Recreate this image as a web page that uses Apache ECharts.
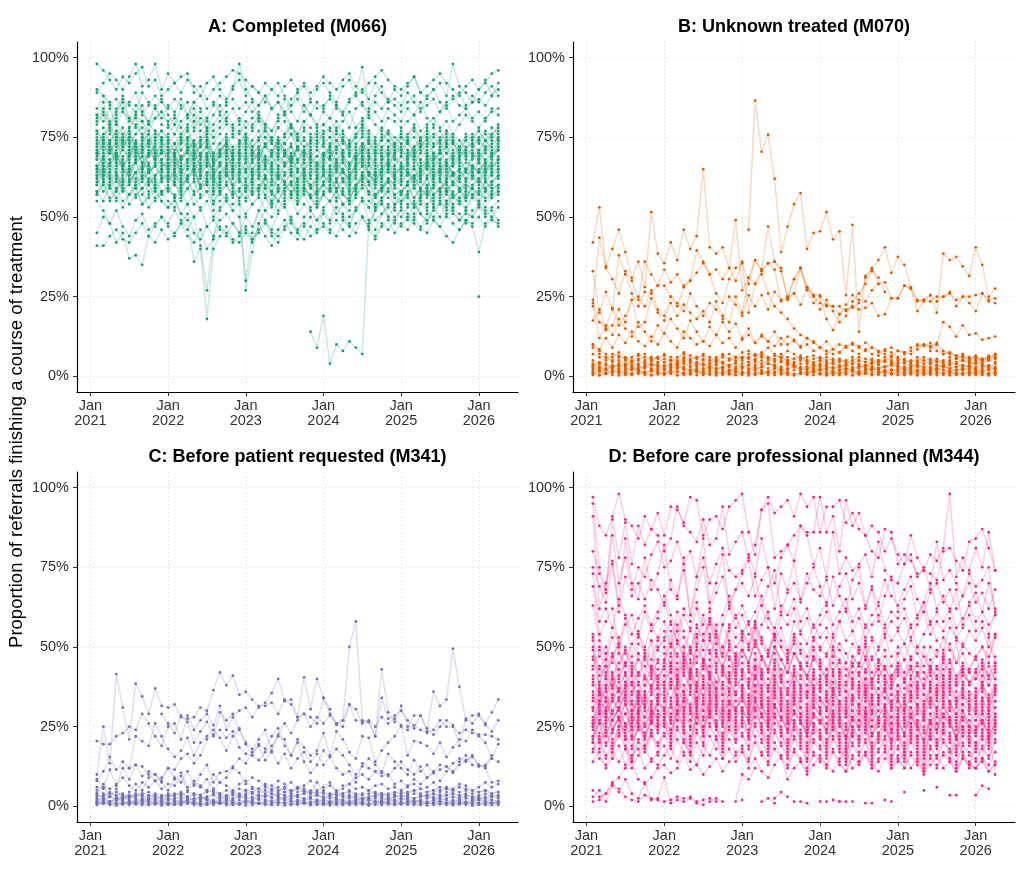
<!DOCTYPE html>
<html><head><meta charset="utf-8">
<script src="https://cdn.jsdelivr.net/npm/echarts@6/dist/echarts.min.js"></script>
<style>html,body{margin:0;padding:0;background:#fff}#chart{width:1024px;height:870px}</style>
</head><body><div id="chart"></div>
<script>
const _ = null;
// Months: Feb 2021 .. Apr 2026 (63 monthly values per provider), value = % of referrals
// rows per line: 2021 (Feb-Dec, 11) | 2022 (12) | 2023 (12) | 2024 (12) | 2025 (12) | 2026 (Jan-Apr, 4)

// ---------- Panel A: Completed (M066) ----------
const a01=[98,96,93,90,94,92,95,97,91,93,88, 90,92,94,95,89,91,87,90,92,94,96,95, 93,91,89,92,90,88,91,93,90,92,89,91, 94,92,90,93,95,91,89,92,94,96,93,91, 90,92,94,89,91,93,95,92,90,88,91,93, 90,92,95,96];
const a02=[90,88,85,87,84,86,89,83,85,88,86, 84,87,85,82,86,88,84,86,83,85,87,84, 86,83,85,88,84,86,82,85,87,83,86,84, 85,87,84,82,86,88,85,83,86,84,87,85, 83,86,88,84,85,87,83,86,88,85,84,86, 87,85,88,90];
const a03=[80,83,79,81,84,78,82,80,77,81,83, 79,76,80,82,78,81,77,79,82,80,78,76, 80,78,82,79,77,81,83,79,76,80,82,78, 79,81,77,80,83,78,80,82,79,77,81,80, 78,80,82,77,79,81,78,80,76,79,82,80, 78,81,83,84];
const a04=[76,78,74,77,73,75,79,76,72,74,77, 75,73,76,78,72,74,77,75,71,73,76,74, 76,72,75,78,74,73,76,79,75,72,74,77, 75,73,77,74,72,76,78,74,71,75,77,73, 76,74,72,75,78,73,75,77,74,72,75,76, 74,77,75,79];
const a05=[72,75,71,73,76,70,74,72,69,73,75, 71,69,73,75,70,72,74,68,71,73,70,72, 74,70,72,75,71,69,73,76,72,70,71,74, 72,70,74,71,69,73,75,71,68,72,74,70, 73,71,69,72,75,70,72,74,71,69,72,73, 71,74,72,75];
const a06=[68,72,70,74,69,71,73,67,70,72,68, 70,66,69,72,68,70,73,67,69,71,65,68, 71,67,70,73,69,66,70,72,68,71,67,69, 70,68,72,69,66,71,73,69,67,70,72,68, 69,71,67,70,73,68,70,72,67,69,71,70, 68,72,70,71];
const a07=[66,69,65,70,67,64,68,71,66,63,67, 65,68,64,66,69,63,67,65,62,66,68,64, 67,63,66,69,65,62,66,68,64,67,63,65, 66,64,68,65,62,67,69,64,63,66,68,64, 65,67,63,66,69,64,66,68,63,65,67,66, 64,68,66,67];
const a08=[63,66,62,65,68,61,64,66,60,63,65, 62,65,61,63,66,60,64,62,59,63,65,61, 64,60,63,66,62,59,63,65,61,64,60,62, 63,61,65,62,59,64,66,61,60,63,65,61, 62,64,60,63,66,61,63,65,60,62,64,63, 61,65,63,64];
const a09=[60,63,59,62,58,61,64,57,60,62,58, 59,56,60,62,57,59,61,55,58,60,57,59, 61,57,59,62,58,55,59,61,57,60,56,58, 60,58,61,57,55,60,62,58,56,59,61,57, 58,60,56,59,62,57,59,61,56,58,60,59, 57,61,59,60];
const a10=[57,60,55,58,61,54,57,59,53,56,58, 55,53,57,59,54,56,58,52,55,57,54,56, 58,54,56,59,55,52,56,58,54,57,53,55, 57,55,58,54,52,57,59,55,53,56,58,54, 55,57,53,56,59,54,56,58,53,55,57,56, 54,58,56,57];
const a11=[45,50,48,52,47,44,49,51,46,48,50, 47,44,48,51,45,43,47,49,46,44,48,45, 47,43,46,49,45,44,47,50,46,48,44,46, 47,45,49,46,44,48,50,46,43,47,49,45, 48,46,50,47,45,49,47,51,48,46,49,48, 50,47,49,48];
const a12=[41,41,44,46,43,42,45,48,44,42,46, 43,45,48,44,42,46,40,43,47,45,42,44, 46,43,45,48,44,42,46,49,45,43,47,45, 48,46,44,49,47,45,50,47,44,48,46,49, 47,50,48,46,51,49,47,44,42,46,49,47, 39,48,50,47];
const a13=[55,52,48,42,45,37,38,35,44,47,50, 48,52,49,46,50,53,47,44,49,51,48,45, 50,47,52,49,46,51,54,48,45,50,52,49, 51,48,53,50,47,52,55,49,46,51,53,50, 52,49,54,51,48,53,50,55,52,49,51,50, 53,50,52,49];
const a14=[62,65,60,63,58,61,64,59,62,60,57, 59,56,58,54,50,41,27,44,52,55,58,56, 60,57,59,62,58,55,59,61,57,60,56,58, 60,58,61,57,55,60,62,58,56,59,61,57, 58,60,56,59,62,57,59,61,56,58,60,59, 57,61,59,60];
const a15=[58,61,56,59,55,57,60,54,57,59,55, 53,55,51,49,36,40,18,40,44,47,43,42, 45,42,48,44,41,46,49,45,43,47,50,46, 52,49,55,51,48,53,50,47,52,54,50,48, 53,51,49,54,52,50,55,53,51,49,52,50, 54,52,50,53];
const a16=[66,63,68,64,61,65,67,62,64,66,63, 61,64,60,62,65,59,61,63,58,55,52,50, 30,45,52,56,53,58,55,57,54,59,56,53, 57,55,58,54,56,59,55,53,57,60,56,54, 58,56,53,57,60,55,57,59,54,56,58,57, 55,59,57,58];
const a17=[70,73,68,71,74,67,70,72,66,69,71, 68,65,69,71,66,68,70,64,67,63,60,55, 27,39,48,52,55,58,61,57,60,63,59,62, 64,61,66,62,60,65,67,63,61,64,66,62, 63,65,61,64,67,62,64,66,61,63,65,64, 62,66,64,65];
const a18=[_,_,_,_,_,_,_,_,_,_,_, _,_,_,_,_,_,_,_,_,_,_,_, _,_,_,_,_,_,_,_,_,_,14,9, 19,4,10,8,11,9,7,48,52,55,50,53, 57,54,51,56,58,53,55,52,57,54,56,59, 55,53,56,58];
const a19=[84,88,86,82,87,85,83,89,86,84,81, 85,83,87,82,86,84,81,85,88,86,90,98, 90,87,85,88,84,86,83,87,89,85,82,86, 84,88,85,83,87,89,97,84,88,91,86,87, 85,89,86,83,88,90,86,84,87,89,85,88, 86,89,91,88];
const a20=[89,92,95,93,90,94,98,91,93,98,90, 95,92,89,93,91,88,92,94,90,87,91,93, 88,91,89,86,90,92,88,85,89,91,87,90, 92,89,86,91,93,88,90,87,92,89,86,90, 88,91,94,89,87,90,92,88,98,91,89,86, 90,93,88,92];
const a21=[79,82,77,80,76,78,81,75,79,77,74, 76,79,74,77,80,75,78,73,76,79,75,77, 74,77,80,75,73,78,76,79,74,77,75,72, 76,78,74,77,73,75,79,76,72,74,77,75, 73,76,78,74,72,75,77,73,76,74,71,75, 77,74,76,78];
const a22=[77,74,79,75,78,73,76,80,74,77,75, 73,76,71,74,77,72,75,70,73,76,72,74, 71,74,77,72,70,75,73,76,71,74,72,69, 73,75,71,74,70,72,76,73,69,71,74,72, 70,73,75,71,69,72,74,70,73,71,68,72, 74,71,73,75];
const a23=[73,76,78,72,75,77,71,74,76,70,73, 72,69,73,75,70,72,74,68,71,73,69,71, 74,70,68,72,75,71,73,69,72,70,74,71, 69,72,74,70,73,68,71,74,70,72,69,73, 71,69,72,74,70,68,71,73,69,72,70,71, 69,72,70,74];
const a24=[75,71,74,77,72,76,73,70,74,76,71, 70,73,68,71,74,69,72,67,70,73,68,70, 73,69,72,67,70,74,71,68,72,69,71,67, 70,68,72,69,66,70,73,68,71,69,66,70, 72,68,70,73,69,67,70,72,68,71,69,70, 68,71,69,72];
const a25=[70,74,72,68,71,75,69,72,74,68,71, 69,67,71,73,68,70,72,66,69,71,67,69, 72,68,70,66,69,73,70,67,71,68,70,66, 68,66,70,67,65,69,71,67,64,68,70,66, 69,67,65,68,71,66,68,70,66,68,65,69, 67,70,68,71];
const a26=[71,68,73,69,66,70,72,67,70,68,65, 68,70,65,68,71,66,69,64,67,70,66,68, 65,68,71,66,64,69,67,70,65,68,66,63, 67,69,65,68,64,66,70,67,63,65,68,66, 64,67,69,65,63,66,68,64,67,65,62,66, 68,65,67,69];
const a27=[65,69,71,66,68,72,67,65,69,71,66, 67,64,68,70,65,67,69,63,66,68,64,66, 69,65,67,63,66,70,67,64,68,65,67,63, 65,63,67,64,62,66,68,64,61,65,67,63, 66,64,62,65,68,63,65,67,63,65,62,66, 64,67,65,68];
const a28=[68,64,67,70,65,63,67,69,64,66,68, 64,67,62,65,68,63,66,61,64,67,63,65, 62,65,68,63,61,66,64,67,62,65,63,60, 64,66,62,65,61,63,67,64,60,62,65,63, 61,64,66,62,60,63,65,61,64,62,59,63, 65,62,64,66];
const a29=[63,67,64,61,66,68,62,65,67,61,64, 66,63,61,65,67,62,64,60,63,66,62,64, 61,64,66,62,60,65,63,66,61,64,62,59, 63,65,61,64,60,62,66,63,59,61,64,62, 60,63,65,61,59,62,64,60,63,61,58,62, 64,61,63,65];
const a30=[65,61,64,67,62,60,64,66,61,63,65, 61,64,59,62,65,60,63,58,61,64,60,62, 59,62,65,60,58,63,61,64,59,62,60,57, 61,63,59,62,58,60,64,61,57,59,62,60, 58,61,63,59,57,60,62,58,61,59,56,60, 62,59,61,63];
const a31=[60,64,62,58,63,65,59,62,64,58,61, 63,60,58,62,64,59,61,57,60,63,59,61, 58,61,63,59,57,62,60,63,58,61,59,56, 60,62,58,61,57,59,63,60,56,58,61,59, 57,60,62,58,56,59,61,57,60,58,55,59, 61,58,60,62];
const a32=[62,58,61,64,59,57,61,63,58,60,62, 58,61,56,59,62,57,60,55,58,61,57,59, 56,59,62,57,55,60,58,61,56,59,57,54, 58,60,56,59,55,57,61,58,54,56,59,57, 55,58,60,56,54,57,59,55,58,56,53,57, 59,56,58,60];
const a33=[57,61,59,55,60,62,56,59,61,55,58, 60,57,55,59,61,56,58,54,57,60,56,58, 55,58,60,56,54,59,57,60,55,58,56,53, 57,59,55,58,54,56,60,57,53,55,58,56, 54,57,59,55,53,56,58,54,57,55,52,56, 58,55,57,59];
const a34=[70,66,72,68,65,69,71,67,64,68,70, 66,69,64,67,70,65,68,63,66,69,65,67, 64,67,70,65,63,68,66,69,64,67,65,62, 66,68,64,67,63,65,69,66,62,64,67,65, 63,66,68,64,62,65,67,63,66,64,61,65, 67,64,66,68];
const a35=[74,70,73,76,71,69,73,75,70,72,74, 70,73,68,71,74,69,72,67,70,73,69,71, 68,71,74,69,67,72,70,73,68,71,69,66, 70,72,68,71,67,69,73,70,66,68,71,69, 67,70,72,68,66,69,71,67,70,68,65,69, 71,68,70,72];
const a36=[82,86,80,84,88,81,85,83,79,84,87, 82,79,84,86,80,83,78,82,85,81,84,80, 83,86,81,79,84,82,87,83,80,85,82,79, 83,81,85,82,78,84,86,81,83,80,84,82, 80,84,82,86,81,79,83,85,80,82,84,81, 83,80,84,82];
const a37=[_,_,_,_,_,_,_,_,_,_,_, _,_,_,_,_,_,_,_,_,_,_,_, _,_,_,_,_,_,_,_,_,_,_,_, _,_,_,_,_,_,_,_,_,_,_,_, _,_,_,_,_,_,_,_,_,_,_,_, 25,_,_,_];
const a38=[77,73,76,79,74,72,76,78,73,75,77, 74,71,75,77,72,74,76,70,73,75,71,73, 76,72,74,77,73,71,75,78,74,72,73,76, 74,72,76,73,71,75,77,73,70,74,76,72, 75,73,71,74,77,72,74,76,73,71,74,75, 73,76,74,77];
const a39=[69,73,71,67,72,74,68,71,73,67,70, 72,69,67,71,73,68,70,66,69,72,68,70, 67,70,72,68,66,71,69,72,67,70,68,65, 69,71,67,70,66,68,72,69,65,67,70,68, 66,69,71,67,65,68,70,66,69,67,64,68, 70,67,69,71];
const a40=[64,68,66,70,65,63,67,69,64,66,68, 65,62,66,68,63,65,67,61,64,66,62,64, 67,63,65,68,64,62,66,69,65,63,64,67, 65,63,67,64,62,66,68,64,61,65,67,63, 66,64,62,65,68,63,65,67,64,62,65,66, 64,67,65,68];
const a41=[61,65,63,59,64,66,60,63,65,59,62, 64,61,59,63,65,60,62,58,61,64,60,62, 59,62,64,60,58,63,61,64,59,62,60,57, 61,63,59,62,58,60,64,61,57,59,62,60, 58,61,63,59,57,60,62,58,61,59,56,60, 62,59,61,63];
const a42=[82,80,84,79,83,81,78,82,80,85,79, 78,81,76,79,82,77,80,75,78,81,77,79, 76,79,81,77,75,78,80,76,74,78,76,73, 77,75,78,74,72,76,79,75,73,76,74,71, 75,73,77,72,74,76,71,75,73,70,74,72, 75,72,76,74];
const a43=[72,65,70,75,66,69,73,64,71,68,74, 66,70,63,68,72,65,69,62,67,71,64,68, 70,64,69,73,66,63,70,67,72,65,69,64, 68,72,65,69,63,67,71,64,68,62,66,70, 64,68,71,63,67,70,65,62,68,66,70,64, 67,63,69,71];
const a44=[58,55,60,56,53,57,59,54,56,58,55, 53,56,51,54,57,52,55,50,53,56,52,54, 51,54,57,52,50,55,53,56,51,54,52,49, 53,55,51,54,50,52,56,53,49,51,54,52, 50,53,55,51,49,52,54,50,53,51,48,52, 54,51,53,55];
const a45=[71,76,73,69,74,77,71,73,76,70,72, 74,70,75,72,68,73,76,69,71,74,70,73, 75,71,68,73,70,74,71,67,72,75,69,71, 73,69,72,75,70,68,73,71,74,69,72,70, 71,74,69,72,75,70,68,72,74,69,71,73, 70,74,71,73];
const a46=[66,62,67,63,60,65,68,61,64,66,62, 63,60,65,61,58,64,66,59,62,65,60,63, 65,61,58,63,60,64,61,57,62,65,59,61, 63,59,62,65,60,58,63,61,64,59,62,60, 61,64,59,62,65,60,58,62,64,59,61,63, 60,64,61,63];
const a47=[81,84,79,83,86,80,82,85,79,81,83, 80,82,78,81,84,79,81,77,80,83,79,81, 78,81,83,79,77,80,82,78,76,80,78,75, 79,77,80,76,74,78,81,77,75,78,76,73, 77,75,79,74,76,78,73,77,75,72,76,74, 77,74,78,76];

// ---------- Panel B: Unknown treated (M070) ----------
const b01=[1,0.5,1,1.5,1,0.5,1,2,1,0.5,1, 1,1.5,0.5,1,1,2,1,0.5,1,1.5,1,0.5, 1,1,0.5,1.5,1,1,2,1,0.5,1,1,1.5, 1,0.5,1,1,1.5,0.5,1,1,0.5,1,1.5,1, 0.5,1,1,1.5,1,0.5,1,1,1.5,0.5,1,1, 1,0.5,1,1.5];
const b02=[2,3,2,1.5,2.5,2,3,2,1.5,2,2.5, 2,1.5,2.5,3,2,2,1.5,2.5,2,3,2,1.5, 2.5,2,3,2,1.5,2.5,2,2,3,2.5,2,1.5, 2,2.5,1.5,2,2.5,2,1.5,2,2.5,2,1.5,2, 2,1.5,2.5,2,1.5,2,2.5,2,1.5,2,2,2.5, 2,1.5,2,2.5];
const b03=[3,4,2.5,3.5,3,4,3,2.5,3.5,4,3, 3.5,3,2.5,4,3,3.5,4,3,2.5,3,3.5,4, 3,3.5,4.5,3,4,3.5,3,4,3.5,3,2.5,3, 3.5,3,2.5,3,3.5,2.5,3,3.5,3,2.5,3,3.5, 3,2.5,3,3.5,2.5,3,3.5,3,2.5,3,3.5,3, 2.5,3,3.5,3];
const b04=[5,4,6,4.5,5,3.5,4.5,5.5,4,5,6, 4.5,5,4,5.5,4.5,6,5,4,5.5,4.5,5,6, 5.5,6,5,6.5,5.5,5,6,5,4.5,5.5,4.5,4, 5,4,4.5,3.5,4,5,4,3.5,4.5,4,5,4.5, 4,4.5,3.5,4,5,4,4.5,3.5,4,4.5,5,4, 4.5,4,5,4.5];
const b05=[7,6,5,7,6.5,5.5,6,7,5,6,5.5, 6.5,5,6,7,5.5,6,6.5,5,6,7,5.5,6, 6,7,6.5,7.5,6,5.5,7,6,5.5,6.5,5,5.5, 6,5,5.5,4.5,5,6,5,4.5,5.5,5,6,5, 5,5.5,4.5,5,6,5,5.5,4.5,5,5.5,6,5, 5.5,5,6,6.5];
const b06=[1.5,2,1,2,1.5,1,2.5,1.5,1,2,1.5, 1,2,1.5,1,2,1.5,1,2,1.5,1,2,1.5, 1,1.5,2,1,1.5,2.5,1.5,1,2,1.5,1,1.5, 2,1,1.5,1,2,1.5,1,1.5,2,1,1.5,1, 1.5,1,2,1.5,1,1.5,2,1,1.5,1,2,1.5, 1,1.5,2,1];
const b07=[4,3,3.5,2.5,4,3,4.5,3.5,3,4,3.5, 3,4,3.5,4.5,3,4,3.5,3,4,4.5,3.5,3, 4,4.5,3.5,5,4,3.5,4.5,4,3.5,4,3,3.5, 3,3.5,2.5,3,3.5,3,2.5,3.5,3,2.5,3,3.5, 3,2.5,3,3.5,3,2.5,3,3.5,2.5,3,3.5,3, 3,3.5,3,2.5];
const b08=[0.5,0.3,0.8,0.5,0.3,0.6,0.4,0.8,0.5,0.3,0.6, 0.5,0.8,0.3,0.5,0.6,0.4,0.5,0.8,0.3,0.5,0.6,0.4, 0.5,0.3,0.6,0.8,0.5,0.4,0.6,0.5,0.3,0.8,0.5,0.4, 0.6,0.3,0.5,0.4,0.6,0.3,0.5,0.8,0.4,0.5,0.3,0.6, 0.5,0.4,0.6,0.3,0.5,0.8,0.4,0.5,0.3,0.6,0.5,0.4, 0.5,0.6,0.3,0.5];
const b09=[10,8,7,6,7.5,6,5,6.5,7,5.5,6, 7,6,5,7.5,6.5,5.5,7,6,5,6.5,7,6, 7.5,8,6.5,7,9,7,6,8,7,5.5,6,6.5, 5.5,6,5,5.5,4.5,5,6,5.5,5,4.5,5,6, 5.5,5,4.5,6,5,5.5,4.5,5,6,5.5,5,4.5, 5,5.5,6,7];
const b10=[2.5,1.5,2,3,2,1.5,2.5,2,3,2.5,2, 2,2.5,3,2,1.5,2.5,2,3,2.5,2,1.5,2.5, 3,2.5,2,3,2.5,3.5,2,2.5,3,2,2.5,2, 2.5,2,1.5,2,2.5,2,1.5,2,2.5,1.5,2,2, 2,2.5,1.5,2,2,1.5,2.5,2,1.5,2,2.5,2, 1.5,2,2.5,2];
const b11=[3.5,4.5,4,3,4,5,3.5,4,4.5,3.5,4, 4.5,3.5,4,5,4,4.5,3.5,4,5,4,3.5,4.5, 5,4.5,5.5,4,5,4.5,5,4.5,4,5,4,3.5, 4,3.5,4,3,3.5,4,3.5,3,4,3.5,3,4, 3.5,3,4,3.5,3,4,3.5,3,3.5,4,3,3.5, 4,3.5,3,4];
const b12=[1,1.5,0.8,1.2,1.5,1,0.8,1.3,1,1.5,1.2, 0.8,1.2,1.5,1,0.8,1.3,1,1.5,1.2,0.8,1,1.3, 1.5,1,1.2,0.8,1.3,1.5,1,1.2,0.8,1,1.5,1.2, 1,1.3,0.8,1.2,1,1.5,0.8,1,1.2,1.3,1,0.8, 1.2,1,1.3,0.8,1,1.2,1.5,1,0.8,1.2,1,1.3, 1,1.2,0.8,1];
const b13=[9,7,6,5,6,5.5,4.5,5,6,5,4.5, 5.5,5,4.5,6,5,4,5.5,5,4.5,6,5.5,5, 6,5.5,7,6,5.5,6.5,6,5,5.5,6,5,4.5, 5,4.5,4,5,4.5,4,5,4.5,4,5,4.5,4, 4.5,4,5,4.5,4,4.5,5,4,4.5,4,5,4.5, 4,4.5,5,5.5];
const b14=[3,2.5,2,3,3.5,2.5,2,3,2.5,3.5,3, 2.5,3,3.5,2.5,2,3,2.5,3,3.5,2.5,3,2, 3,3.5,2.5,3,4,3,2.5,3.5,3,2.5,3,2.5, 2,2.5,3,2,2.5,2,3,2.5,2,2.5,3,2, 2.5,2,2.5,3,2,2.5,2,3,2.5,2,2.5,3, 2,2.5,3,2.5];
const b15=[_,_,_,_,_,_,_,_,_,_,_, _,_,_,_,_,_,_,_,_,_,_,_, _,46,86.5,70.5,75.8,62,39,47,54,57.5,40,45, 45.5,51.5,43,45.5,25.5,47.5,14,31.5,33.5,36.5,40.5,32.5, 37.5,35,28,24,24,25.5,20,38.5,36.5,37.5,34.5,31.5, 40.5,35,25,27.5];
const b16=[42,53,34.5,40,46,39,31,36,28,51.5,38.5, 35.5,42,36.5,46,40,44,65,40.5,38.5,40.5,34,49, 27,31,36.5,33.5,35.5,36,33,25,30.5,34,28,25.5, 23,22,22,19.5,22.5,25.5,24,23.5,27,29,29.5,24.5, 24.5,28.5,27.5,23.5,24,23.5,25,25,26,24,25,25, 25.5,26,24,24.5];
const b17=[23,43.5,34,30.5,26,33,30,24,36,32,28.5, 33.5,29.5,32,28.5,30,32.5,35.5,32,33.5,30.5,34,30, 36,29,36.5,33,35.5,33.5,23.5,24.5,30.5,34,27.5,25, 21,24,20.5,17,19,23.5,26,29,33,31,26.5,_, _,_,_,_,_,_,_,_,_,_,_,_, _,_,_,_];
const b18=[17.5,21,14.5,16,21,17,24,25,22,27,21, 19,25,23,20.5,26,22,19,23,21,18,25,22.5, 19,25.5,22,25.5,21,26.5,24,25,26,22.5,28,25.5, 25.5,22.5,22,22,20.5,22,21,21.5,23,19,19.5,24.5, 24.5,28.5,27.5,20.5,23.5,25.5,23.5,25,26.5,22,25,23, 20.5,26,23.5,23];
const b19=[22,12,16,13,18,15,12.5,17,14,11,16, 13.5,18,15,12,17.5,14,11,15.5,13,17,14,16.5, 12,15,10.5,13,11,14,10,12.5,11,9.5,12,10.5, 9,11,8.5,10,9,10.5,9.5,8,9,7.5,8.5,9, 8,7.5,9,10,9.5,10.5,8,7,7.5,6.5,7,6, 6.5,5.5,6.5,7];
const b20=[10,8.5,12,9,13,10.5,14,11,9.5,12.5,10, 13.5,11,9,14,12,10,11,9.5,13,10.5,12,9, 11.5,13,10.5,12.5,11,9.5,12,10,11.5,9,10,8, 9,7,8.5,7.5,9.5,8,7,8.5,7,6.5,8,7.5, 6,7,8,9.5,10,9,10.5,8,7,6.5,6,5.5, 6,5,5.5,6];
const b21=[_,_,_,_,_,_,_,_,_,_,_, _,_,_,_,_,_,_,_,_,_,_,_, _,_,_,_,_,_,_,_,_,_,_,_, _,_,_,_,_,_,_,_,_,_,_,_, _,_,_,_,_,8,10,17,15.5,12.5,16,13, 13.5,11.5,12,12.5];
const b22=[33,20,26.5,21,38,32,26,22,26.5,26,28.5, 28.5,25,22,28,30,39.5,36,32,26,23,30.5,34, 35.5,20,29,32,26,22,20,18,15,13,12,11, 9,8,7,7.5,9.5,10,9,10.5,9,8,7,6.5, 8,7.5,7,8.5,10,9.5,10,7,7.5,6,6.5,5.5, 6,5,5.5,6];
const b23=[24,17,15,21.5,16,19,24,15.5,17,24.5,20, 17.5,23,19,22.5,20,18,20.5,17,23.5,19,17,25, 20,31,29,33.5,47,36,34,24,26,34,27,23, 25,18,14.5,19.5,21,21.5,23,31,34,29,_,_, _,_,_,_,_,_,_,_,_,_,_,_, _,_,_,_];

// ---------- Panel C: Before patient requested (M341) ----------
const c01=[1,1.5,1,0.5,1,1.5,1,1,0.5,1,1.5, 1,0.5,1,1.5,1,1,0.5,1.5,1,1,0.5,1, 1.5,1,1,0.5,1,1.5,1,0.5,1,1,1.5,1, 0.5,1,1,1.5,0.5,1,1,0.5,1.5,1,1,0.5, 1,1.5,1,0.5,1,1,1.5,1,0.5,1,1,1.5, 1,0.5,1,1];
const c02=[2,2.5,1.5,2,3,2,1.5,2.5,2,1.5,2, 2.5,2,1.5,2,2.5,3,2,1.5,2,2.5,2,3, 2.5,3,2,3.5,2.5,3,2,2.5,3,2,2.5,2, 2,1.5,2.5,2,1.5,2,2.5,2,1.5,2,2.5,2, 2.5,2,1.5,2,2.5,3,2,2.5,3,2,2.5,2, 2,2.5,2,1.5];
const c03=[3,3.5,4,3,2.5,3.5,3,4,3.5,3,2.5, 3,3.5,4,3,3.5,2.5,3,4,3.5,3,4,3.5, 4,4.5,3.5,5,4,3.5,4.5,4,3.5,4,4.5,3.5, 3,3.5,4,3,3.5,3,2.5,3,3.5,4,3,3.5, 3,3.5,4,3.5,3,4,3.5,4.5,4,3.5,4,3, 3.5,4,3,3.5];
const c04=[0.5,0.8,0.5,0.3,0.6,0.5,0.8,0.4,0.5,0.6,0.3, 0.5,0.6,0.4,0.8,0.5,0.3,0.6,0.5,0.8,0.4,0.5,0.6, 0.3,0.5,0.8,0.6,0.4,0.5,0.3,0.6,0.5,0.8,0.4,0.5, 0.6,0.3,0.5,0.4,0.8,0.5,0.6,0.3,0.5,0.4,0.6,0.5, 0.8,0.5,0.4,0.6,0.3,0.5,0.8,0.5,0.4,0.6,0.5,0.3, 0.5,0.6,0.4,0.5];
const c05=[1.5,2,1.5,2.5,1.5,1,2,1.5,2,2.5,1.5, 2,1.5,1,2,1.5,2,2.5,1.5,1,2,1.5,2, 1.5,2,2.5,2,1.5,2,3,2,1.5,2,2.5,1.5, 2,1.5,2,1,1.5,2,1.5,2,2.5,1.5,2,1.5, 2,2.5,1.5,2,1.5,2,2.5,2,1.5,2,1.5,2, 2.5,1.5,2,1.5];
const c06=[4,3,4.5,3.5,4,3,3.5,4,4.5,3.5,3, 4,3.5,4.5,3,4,3.5,4.5,5,4,3.5,4.5,4, 5,4.5,5.5,4,5,6,4.5,5,5.5,4.5,5,4, 4.5,4,3.5,4,4.5,3.5,4,5,4,3.5,4,4.5, 4,4.5,5,4,4.5,5,4.5,5.5,5,4.5,5,4, 4.5,5,4,4.5];
const c07=[1,1.2,1.5,1,0.8,1.3,1,1.5,1.2,1,0.8, 1.2,1,1.5,1.3,1,0.8,1.2,1.5,1,1.3,1.2,1, 1.5,1.2,1,1.3,1.5,1,1.2,1.5,1.3,1,1.2,1.5, 1,1.3,1.2,0.8,1,1.5,1.2,1,1.3,1.5,1,1.2, 1.3,1,1.5,1.2,1,1.3,1.5,1.2,1,1.3,1.2,1, 1.2,1.5,1,1.3];
const c08=[2.5,2,3,2.5,2,3,2.5,2,2.5,3,2.5, 2,2.5,3,2.5,2,3,2.5,2,3,2.5,3.5,3, 3,2.5,3.5,3,4,3,2.5,3.5,3,2.5,3,3.5, 2.5,3,2.5,2,3,2.5,2,2.5,3,2.5,2,3, 2.5,3,2.5,3,3.5,2.5,3,3.5,3,2.5,3,2.5, 3,2.5,3,2.5];
const c09=[5,4,3,4.5,3.5,3,4,3.5,3,4,3.5, 3,4,3.5,4.5,4,3.5,5,4.5,4,5,4.5,5.5, 5,5.5,4.5,6,5,4.5,5.5,5,4.5,5,4,4.5, 4,3.5,4.5,4,5,4,3.5,4,4.5,4,3.5,4, 4.5,4,5,5.5,4.5,5,6,5.5,5,6,5.5,5, 4.5,5,4,4.5];
const c10=[1.5,1,1.5,2,1,1.5,1,2,1.5,1,1.5, 1,1.5,2,1.5,1,1.5,2,1,1.5,2,1.5,1, 2,1.5,1,2,1.5,2.5,2,1.5,2,1.5,1,2, 1.5,1,1.5,2,1,1.5,1,2,1.5,1,1.5,2, 1,1.5,2,1.5,1,2,1.5,1,2,1.5,1,1.5, 2,1.5,1,1.5];
const c11=[3.5,2.5,3,2,3,2.5,3.5,3,2.5,2,3, 3.5,3,2.5,3,2,2.5,3,3.5,2.5,3,2.5,3, 3.5,4,3,3.5,3,4,3.5,3,3.5,4,3,3.5, 3,2.5,3,3.5,2.5,3,2.5,3,3.5,3,2.5,3, 3.5,3,2.5,3,3.5,4,3,3.5,4,3,3.5,3, 2.5,3,3.5,3];
const c12=[0.8,1,0.6,1.2,0.8,1,0.6,0.8,1.2,1,0.8, 0.6,1,0.8,1.2,1,0.6,0.8,1,1.2,0.8,1,0.6, 1,1.2,0.8,1,0.6,1.2,1,0.8,1,1.2,0.6,0.8, 1,0.8,0.6,1,1.2,0.8,1,0.6,0.8,1,1.2,0.8, 0.6,1,0.8,1.2,1,0.8,0.6,1,1.2,0.8,1,0.6, 0.8,1,1.2,0.8];
const c13=[20.5,19.5,19.5,22,23,25,24,29,26,22,19, 25,26,21,28.5,24,27,29,25.5,31.5,24,28,30, 31,28,31.5,31.5,32.5,29,33.5,32,28,29,25,28, 26,28.5,26,25,32,27,26.5,27,25,28,26,27.5, 25,24,25.5,24,23,24,27,25,25,23,24,23, 22.5,22.5,22,21];
const c14=[10,25,13.5,41.5,31,21,38.5,34.5,29,37,31.5, 31,32,28,27.5,28,31,30,36.5,42,38,41,35, 36,33.5,31,32.5,35.5,40,33,33.5,28,40.5,30.5,40, 34,30.5,26,27,50,58,27,26.5,22,43,29.5,26.5, 31.5,25,28.5,28.5,23.5,36,31.5,33.5,49.5,37.5,27,28.5, 29,26,29.5,33.5];
const c15=[8,11,15.5,11.5,14,12,22,20.5,19,26,22, 18,15.5,17.5,21.5,16,20,22,24,21.5,17.5,22,24.5, 19.5,16,19.5,18,22,24.5,19,16,21,18.5,16,17.5, 23,16,23.5,21,17,15,22,21.5,14,17.5,20,22, 25.5,16,20.5,20,19,16.5,20,15.5,18.5,21,20.5,24, 22,20,15,19.5];
const c16=[6,5.5,11.5,6.5,12,8.5,13,9.5,11,10,8, 12,9,7.5,11,6.5,10,13,7.5,10.5,11,12.5,15, 13.5,17,19,14.5,17,13.5,16.5,12,15,17,14,16.5, 13,15.5,18,16,13,10,12.5,15,13,11,9.5,12, 14,11.5,10,12.5,9,11,13,12.5,10.5,13,14.5,15.5, 13,12.5,15,14];
const c17=[4,7,3,5.5,2,4.5,7,5,9,10,7.5, 5,8.5,10.5,6,8,6.5,5,10,7.5,9,12,10.5, 7,9,8,6.5,5.5,8,7,4.5,6,5.5,4,7.5, 5,6.5,4.5,5.5,7,9,10,8.5,11,9.5,10,7, 8,6,8.5,7,9,10.5,8,11,13.5,15,14,16, 13,12,7.5,8];
const c18=[_,_,_,_,_,_,_,_,_,_,29, 26,23,28.5,26.5,20,23.5,26.5,22,29.5,27,29,24, 20,18,21,24,17.5,22.5,26,23,27,29,28,26, 34,29,25.5,27,32,30.5,26,26.5,22,34,27.5,28.5, 30,27,24.5,28.5,24.5,22.5,25,27,25.5,19,27.5,26, 28.5,25.5,23.5,27];
const c19=[_,_,_,_,_,12,13,12.5,10,8,9, 12,11.5,15,16.5,13.5,16,21,22.5,24,21.5,23.5,18.5, 16.5,16,14.5,17,19,22,21,16,20,14,10.5,13, 17.5,15.5,12,10,11,7.5,13.5,12,11,10.5,16.5,14, 12,10,14.5,11,13,10.5,11.5,12.5,11,14,16,13, 12.5,13,16,_];
const c20=[8.5,6,5.5,7,9,6.5,5,7.5,6,8,5.5, 7,6.5,9.5,5,7,6,8.5,5.5,7.5,6.5,5,7, 8,6,5.5,7,6.5,5,6,7.5,5.5,6.5,8,5, 6,7.5,5,6.5,7,5.5,6,5,6.5,7,5.5,6, 5,6.5,7,5.5,6,7.5,5,6,5.5,7,6.5,5, 6,7.5,6,7];

// ---------- Panel D: Before care professional planned (M344) ----------
const d01=[97,88,85,91,98,90,88,84,91,87,92, 85,94,93,89,97,96,85,90,91,87,94,96, 98,86,79,93,97,92,94,96,91,98,94,97, 86,94,94,96,89,92,87,85,88,86,80,84, 79,76,85,78,74,73,71,80,81,77,74,83, 84,87,81,74];
const d02=[95,75,68,90,78,89,76,88,82,87,85, 80,84,94,88,86,83,90,82,84,94,79,83, 86,78,82,93,95,78,80,82,85,88,86,86, 97,86,91,80,96,88,92,85,80,78,87,86, 76,79,77,73,74,79,77,81,98,72,78,74, 81,75,86,74];
const d03=[80,73,67,85,70,78,68,75,72,79,83, 75,77,83,76,80,72,78,70,76,81,74,72, 74,79,73,84,75,70,78,82,77,88,85,76, 81,72,86,73,78,74,76,79,72,83,74,71, 70,76,79,72,75,68,83,71,74,70,66,73, 69,71,75,60];
const d04=[75,69,64,76,61,72,66,70,65,71,68, 63,71,66,74,60,68,75,62,67,72,64,68, 70,66,72,63,69,74,61,67,70,65,73,68, 66,71,63,69,73,65,70,62,68,64,71,66, 63,68,72,65,61,67,70,64,68,62,66,70, 64,67,62,68];
const d05=[91,62,70,77,63,84,70,65,78,68,73, 82,68,65,78,60,72,84,64,70,79,62,68, 73,77,66,71,75,62,73,68,77,64,70,75, 69,63,72,66,61,71,75,63,69,58,66,72, 61,65,69,59,64,70,62,66,61,68,57,64, 67,61,70,62];
const d06=[73,58,62,56,65,60,54,59,63,57,61, 66,60,55,62,58,64,57,61,55,60,66,59, 63,57,61,66,59,56,63,60,65,58,62,56, 60,64,57,61,65,58,62,56,60,63,57,61, 59,62,56,60,64,57,61,58,62,56,59,63, 58,61,57,60];
const d07=[69,54,58,62,50,57,60,53,61,55,59, 64,57,52,60,55,62,54,58,51,57,63,56, 60,54,58,63,56,53,60,57,62,55,59,53, 57,61,54,58,62,55,59,53,57,60,54,58, 56,59,53,57,61,54,58,55,59,53,56,60, 55,58,54,61];
const d08=[63,52,48,56,51,59,47,54,50,57,53, 58,51,61,55,49,57,52,59,53,48,56,60, 54,58,50,57,61,52,56,49,58,54,51,57, 53,56,50,58,52,55,49,57,53,50,56,52, 55,51,57,50,54,58,52,49,56,53,50,55, 52,56,50,54];
const d09=[52,47,50,45,53,48,44,51,49,46,52, 55,50,57,53,48,56,52,59,54,50,57,53, 55,51,58,53,49,56,52,48,54,51,47,53, 50,47,53,49,45,51,48,52,46,49,53,47, 50,46,52,48,44,50,47,53,49,45,51,48, 46,50,47,53];
const d10=[47,43,48,41,45,49,42,46,44,40,46, 50,45,52,47,43,50,46,53,48,44,51,47, 49,45,52,47,43,50,46,42,48,45,41,47, 44,41,47,43,39,45,42,46,40,43,47,41, 44,40,46,42,38,44,41,47,43,39,45,42, 40,44,41,47];
const d11=[43,39,44,38,41,45,39,42,40,37,43, 46,42,48,44,40,47,43,49,45,41,47,44, 45,42,48,43,40,46,43,39,44,41,38,43, 41,38,43,40,36,42,39,43,37,40,44,38, 41,37,43,39,35,41,38,43,40,36,42,39, 37,41,38,43];
const d12=[50,36,41,37,43,39,35,42,38,44,40, 43,47,41,45,50,42,46,40,48,43,39,45, 47,43,40,46,42,48,41,45,39,44,41,37, 40,43,37,41,45,38,42,36,40,44,38,41, 43,39,36,42,38,44,40,37,41,38,43,39, 42,38,44,40];
const d13=[39,35,40,33,37,42,36,39,34,38,41, 44,39,45,41,37,43,40,46,42,38,44,41, 43,39,46,41,37,44,40,36,42,38,35,41, 38,35,41,37,33,39,36,40,34,37,41,35, 38,34,40,36,32,38,35,40,37,33,39,36, 34,38,35,40];
const d14=[33,37,31,35,39,34,30,36,33,38,35, 41,37,43,38,35,41,37,44,39,35,42,38, 40,37,43,38,34,41,37,33,39,36,32,38, 36,33,39,35,31,37,34,38,32,35,39,33, 36,32,38,34,30,36,33,38,35,31,37,34, 32,36,33,38];
const d15=[36,32,37,30,34,38,33,36,31,35,38, 38,34,40,36,32,39,35,41,37,33,40,36, 38,34,41,36,32,39,35,31,37,34,30,36, 34,31,37,33,29,35,32,36,30,33,37,31, 34,30,36,32,28,34,31,36,33,29,35,32, 30,34,31,36];
const d16=[30,35,29,33,37,32,28,34,31,36,33, 37,33,39,35,31,38,34,40,36,32,39,35, 37,33,40,35,31,38,34,30,36,33,29,35, 33,30,36,32,28,34,31,35,29,32,36,30, 33,29,35,31,27,33,30,35,32,28,34,31, 29,33,30,35];
const d17=[34,29,33,27,31,35,30,33,28,32,35, 35,31,37,33,29,36,32,38,34,30,37,33, 35,31,38,33,29,36,32,28,34,31,27,33, 31,28,34,30,26,32,29,33,27,30,34,28, 31,27,33,29,25,31,28,33,30,26,32,29, 27,31,28,33];
const d18=[27,32,26,30,34,29,25,31,28,33,30, 33,29,35,31,27,34,30,36,32,28,35,31, 33,29,36,31,27,34,30,26,32,29,25,31, 29,26,32,28,24,30,27,31,25,28,32,26, 29,25,31,27,23,29,26,31,28,24,30,27, 25,29,26,31];
const d19=[31,26,30,24,28,32,27,30,25,29,32, 31,27,33,29,25,32,28,34,30,26,33,29, 31,27,34,29,25,32,28,24,30,27,23,29, 27,24,30,26,22,28,25,29,23,26,30,24, 27,23,29,25,21,27,24,29,26,22,28,25, 23,27,24,29];
const d20=[24,29,23,27,31,26,22,28,25,30,27, 30,26,32,28,24,31,27,33,29,25,32,28, 30,26,33,28,24,31,27,23,29,26,22,28, 26,23,29,25,21,27,24,28,22,25,29,23, 26,22,28,24,20,26,23,28,25,21,27,24, 22,26,23,28];
const d21=[28,23,27,21,25,29,24,27,22,26,29, 28,24,30,26,22,29,25,31,27,23,30,26, 28,24,31,26,22,29,25,21,27,24,20,26, 24,21,27,23,19,25,22,26,20,23,27,21, 24,20,26,22,18,24,21,26,23,19,25,22, 20,24,21,26];
const d22=[22,26,20,24,28,23,19,25,22,27,24, 27,23,29,25,21,28,24,30,26,22,29,25, 27,23,30,25,21,28,24,20,26,23,19,25, 23,20,26,22,18,24,21,25,19,22,26,20, 23,19,25,21,17,23,20,25,22,18,24,21, 19,23,20,25];
const d23=[25,20,24,18,22,26,21,24,19,23,26, 25,21,27,23,19,26,22,28,24,20,27,23, 25,21,28,23,19,26,22,18,24,21,17,23, 21,18,24,20,16,22,19,23,17,20,24,18, 21,17,23,19,15,21,18,23,20,16,22,19, 17,21,18,23];
const d24=[18,22,16,20,24,19,15,21,18,23,20, 23,19,25,21,17,24,20,26,22,18,25,21, 23,19,26,21,17,24,20,16,22,19,15,21, 19,16,22,18,14,20,17,21,15,18,22,16, 19,15,21,17,13,19,16,21,18,14,20,17, 15,19,16,21];
const d25=[20,15,13,17,14,18,12,16,19,14,17, 19,15,21,17,14,20,16,22,18,15,21,17, 19,15,22,17,14,20,16,13,18,15,12,17, 15,13,18,14,11,16,14,17,12,15,18,13, 16,12,17,14,11,16,13,17,15,12,16,14, 12,15,13,17];
const d26=[35,31,28,34,30,36,32,29,35,31,27, 33,38,34,30,36,32,39,35,31,37,33,30, 36,32,38,34,30,37,33,29,35,31,28,34, 31,35,29,33,30,27,32,29,34,28,31,26, 30,33,28,32,29,26,31,28,33,27,30,25, 29,32,27,31];
const d27=[26,30,33,27,31,25,29,33,26,30,28, 31,27,33,36,30,34,28,32,35,29,33,30, 34,30,36,32,28,35,31,27,33,29,26,32, 29,33,27,31,28,25,30,27,32,26,29,24, 28,31,26,30,27,24,29,26,31,25,28,23, 27,30,25,29];
const d28=[49,44,40,47,43,50,45,41,48,44,39, 46,51,47,43,49,45,52,48,44,50,46,42, 49,45,51,47,43,50,46,42,48,44,41,47, 44,48,42,46,43,40,45,42,47,41,44,39, 43,46,41,45,42,39,44,41,46,40,43,38, 42,45,40,44];
const d29=[41,37,34,40,36,42,38,35,41,37,33, 39,44,40,36,42,38,45,41,37,43,39,35, 42,38,44,40,36,43,39,35,41,37,34,40, 37,41,35,39,36,33,38,35,40,34,37,32, 36,39,34,38,35,32,37,34,39,33,36,31, 35,38,33,37];
const d30=[22,27,30,24,28,21,26,30,23,27,25, 28,24,30,33,27,31,25,29,32,26,30,27, 31,27,33,29,25,32,28,24,30,26,23,29, 26,30,24,28,25,22,27,24,29,23,26,21, 25,28,23,27,24,21,26,23,28,22,25,20, 24,27,22,26];
const d31=[54,50,46,53,48,44,51,55,47,52,49, 53,58,52,48,56,51,60,54,49,57,52,47, 55,50,57,52,47,54,50,46,53,49,45,52, 49,53,47,51,48,44,50,47,52,45,49,44, 48,51,46,50,47,43,49,46,51,45,48,43, 47,50,45,54];
const d32=[20,35,28,40,25,33,22,38,30,26,34, 29,42,33,27,45,31,38,28,43,35,30,40, 36,28,44,32,27,41,35,26,38,31,24,36, 30,24,37,29,22,34,27,40,25,32,28,23, 35,26,31,22,29,37,24,33,27,21,30,25, 33,24,30,37];
const d33=[53,38,46,35,50,41,33,48,40,52,37, 45,55,41,50,38,53,46,42,57,44,49,39, 52,44,56,41,48,54,39,47,51,43,36,49, 45,39,50,42,36,47,44,51,38,46,41,35, 48,40,44,37,50,42,35,46,40,52,38,43, 47,39,53,45];
const d34=[31,18,25,15,27,21,14,29,19,24,16, 26,20,32,23,17,30,22,35,25,19,28,21, 29,22,34,24,18,31,23,17,27,20,15,26, 22,17,28,19,15,25,21,29,16,23,19,14, 24,16,22,18,13,26,19,23,15,21,17,12, 20,15,24,10];
const d35=[3,5,1.5,6.5,4.5,8.5,4,2.5,7.5,2,2.5, 9,1,2,1.5,2.5,1,0.5,1.5,2.5,1.5,_,1.5, 10,8.5,12,_,_,2.5,4.5,3,_,1.5,1,_, 1.5,_,2,1.5,_,1.5,_,_,1,_,_,1.5, _,4.5,_,_,5,_,6,_,3.5,3.5,_,_, 3.5,6.5,5.5,_];
const d36=[5,3,4,7.5,9,12,14,8.5,7,9,12, 13,10.5,12,16,11.5,13,10,12.5,15,11,14,16, 18,12,15,11,9,13,16,8.5,12,14,10,13, 16,13,11,15,18,12,14,17,13,11,15,12, 14,17,12,15,11,13,16,12,14,11,15,13, 12,14,11,13];
const d37=[1.5,2,4,7,5.5,3,2,1.5,3.5,2.5,2, 1.5,2,3,2.5,3,1.5,2,2.5,1.5,_,_,_, 2,_,_,1.5,2.5,1,_,_,1.5,_,_,_, _,1.5,_,1.5,1.5,_,_,1,_,_,2,_, _,_,_,_,_,_,_,_,_,_,_,_, _,_,_,_];
const d38=[31,36,34,29,33,38,30,35,32,28,34, 36,40,35,42,38,33,41,37,34,39,36,43, 38,35,41,37,33,40,36,32,38,35,31,37, 34,31,36,33,29,35,32,37,30,34,31,28, 33,30,35,32,28,34,31,36,33,29,32,30, 31,34,29,33];
const d39=[25,29,22,27,31,24,28,26,23,29,25, 28,32,27,34,30,26,33,29,25,31,28,35, 30,27,33,29,25,32,28,24,30,27,23,29, 27,24,29,26,22,28,25,30,23,27,24,21, 26,23,28,25,21,27,24,29,26,22,25,23, 24,27,22,26];
const d40=[46,41,44,48,40,45,43,39,47,42,45, 48,44,51,46,42,49,45,52,47,43,50,46, 49,45,52,47,43,50,46,42,48,44,40,46, 43,40,45,42,38,44,41,46,39,43,40,37, 42,39,44,41,37,43,40,45,42,38,41,39, 40,43,38,42];
const d41=[17,21,15,19,23,18,14,20,17,22,19, 22,18,24,20,16,23,19,25,21,17,24,20, 22,18,25,20,16,23,19,15,21,18,14,20, 18,15,21,17,13,19,16,20,14,17,21,15, 18,14,20,16,12,18,15,20,17,13,19,16, 14,18,15,20];
const d42=[40,35,38,42,36,39,41,34,38,43,37, 41,45,40,47,43,38,46,42,39,44,41,48, 43,40,46,42,38,45,41,37,43,40,36,42, 39,36,41,38,34,40,37,42,35,39,36,33, 38,35,40,37,33,39,36,41,38,34,37,35, 36,39,34,38];
const d43=[26,33,38,24,31,35,22,29,36,27,32, 34,28,39,31,25,37,30,41,33,27,36,30, 35,29,38,32,26,36,30,24,34,28,22,31, 29,23,33,27,20,30,25,34,22,28,32,24, 28,22,31,26,19,29,24,32,27,21,30,25, 23,29,21,27];
const d44=[44,49,42,47,51,45,41,48,46,43,50, 52,48,55,50,46,54,49,57,51,47,55,50, 53,49,56,51,47,54,50,46,52,48,44,50, 46,43,49,45,41,47,44,50,42,46,43,40, 45,42,47,44,40,46,43,48,45,41,44,42, 43,46,41,45];
const d45=[21,26,19,23,28,22,18,25,21,27,23, 26,22,29,24,20,28,23,30,25,21,29,24, 26,22,30,24,20,28,23,19,25,22,18,24, 22,19,25,21,17,23,20,24,18,21,25,19, 22,18,24,20,16,22,19,24,21,17,23,20, 18,22,19,24];
const d46=[38,33,36,40,34,37,39,32,36,41,35, 39,43,38,45,41,36,44,40,37,42,39,46, 41,38,44,40,36,43,39,35,41,38,34,40, 37,34,39,36,32,38,35,40,33,37,34,31, 36,33,38,35,31,37,34,39,36,32,35,33, 34,37,32,36];
const d47=[14,17,12,15,19,13,16,18,12,15,13, 16,19,14,20,17,13,19,16,21,15,18,14, 17,14,20,16,13,18,15,12,17,14,11,16, 14,12,17,13,11,15,13,16,12,14,17,12, 15,12,16,13,10,15,12,16,14,11,15,13, 12,15,11,14];

const seriesA=[a01,a02,a03,a04,a05,a06,a07,a08,a09,a10,a11,a12,a13,a14,a15,a16,a17,a18,a19,a20,a21,a22,a23,a24,a25,a26,a27,a28,a29,a30,a31,a32,a33,a34,a35,a36,a37,a38,a39,a40,a41,a42,a43,a44,a45,a46,a47];
const seriesB=[b01,b02,b03,b04,b05,b06,b07,b08,b09,b10,b11,b12,b13,b14,b15,b16,b17,b18,b19,b20,b21,b22,b23];
const seriesC=[c01,c02,c03,c04,c05,c06,c07,c08,c09,c10,c11,c12,c13,c14,c15,c16,c17,c18,c19,c20];
const seriesD=[d01,d02,d03,d04,d05,d06,d07,d08,d09,d10,d11,d12,d13,d14,d15,d16,d17,d18,d19,d20,d21,d22,d23,d24,d25,d26,d27,d28,d29,d30,d31,d32,d33,d34,d35,d36,d37,d38,d39,d40,d41,d42,d43,d44,d45,d46,d47];

const panelTitles=['A: Completed (M066)','B: Unknown treated (M070)','C: Before patient requested (M341)','D: Before care professional planned (M344)'];
const panelColors=['#1B9E77','#D95F02','#7570B3','#E7298A'];
const xTickValues=[0,12,24,36,48,60];            // months after Jan 2021
const xTickLabels=['Jan\n2021','Jan\n2022','Jan\n2023','Jan\n2024','Jan\n2025','Jan\n2026'];
const yTickValues=[0,25,50,75,100];
const yTickLabels=['0%','25%','50%','75%','100%'];
const yTitle='Proportion of referrals finishing a course of treatment';
const firstMonth=1; // Feb 2021 = 1 month after Jan 2021

// ---------- chart ----------
const FONT='"Liberation Sans", Arial, Helvetica, sans-serif';
const grids=[
  {left:77, top:42, width:441, height:350},
  {left:573, top:42, width:442, height:350},
  {left:77, top:472, width:441, height:350},
  {left:573, top:472, width:442, height:350}
];
const allPanels=[seriesA,seriesB,seriesC,seriesD];
const series=[];
allPanels.forEach((list,p)=>{
  const pts=[];
  list.forEach(arr=>{
    const data=arr.map((v,i)=>[firstMonth+i, v==null?'-':v]);
    arr.forEach((v,i)=>{ if(v!=null) pts.push([firstMonth+i,v]); });
    series.push({type:'line',xAxisIndex:p,yAxisIndex:p,data,showSymbol:false,silent:true,
      lineStyle:{color:panelColors[p],width:1.6,opacity:0.22},z:2,animation:false,connectNulls:false});
  });
  series.push({type:'scatter',xAxisIndex:p,yAxisIndex:p,data:pts,symbol:'circle',symbolSize:2.8,silent:true,
    itemStyle:{color:panelColors[p],opacity:1},z:3,animation:false});
});

const xAxes=grids.map((g,p)=>({
  type:'value',gridIndex:p,min:-2.07,max:66.05,
  axisLine:{show:true,onZero:false,lineStyle:{color:'#000',width:1.2}},
  axisTick:{show:true,length:4,customValues:xTickValues,lineStyle:{color:'#333',width:1}},
  axisLabel:{customValues:xTickValues,formatter:v=>xTickLabels[xTickValues.indexOf(v)]||'',
    color:'#333',fontSize:14.5,lineHeight:15,margin:6,fontFamily:FONT},
  splitLine:{show:true,lineStyle:{type:[1,3],color:'#cfcfcf',width:0.8}}
}));
const yAxes=grids.map((g,p)=>({
  type:'value',gridIndex:p,min:-4.9,max:104.9,
  axisLine:{show:true,onZero:false,lineStyle:{color:'#000',width:1.2}},
  axisTick:{show:true,length:4,customValues:yTickValues,lineStyle:{color:'#333',width:1}},
  axisLabel:{customValues:yTickValues,formatter:v=>yTickLabels[yTickValues.indexOf(v)]||'',
    color:'#333',fontSize:14.5,margin:8,fontFamily:FONT},
  splitLine:{show:true,lineStyle:{type:[1,3],color:'#cfcfcf',width:0.8}}
}));

const chart=echarts.init(document.getElementById('chart'),null,{renderer:'canvas'});
chart.setOption({
  backgroundColor:'#fff',
  animation:false,
  title:panelTitles.map((t,k)=>({text:t,left:grids[k].left+grids[k].width/2,top:grids[k].top-25,textAlign:'center',padding:0,
    textStyle:{fontSize:18,fontWeight:'bold',color:'#000',fontFamily:FONT,lineHeight:20}})),
  grid:grids,
  xAxis:xAxes,
  yAxis:yAxes,
  graphic:[{type:'text',x:17,y:432,rotation:Math.PI/2,silent:true,
    style:{text:yTitle,fill:'#000',font:'18.5px '+FONT,align:'center',verticalAlign:'middle'}}],
  series
});
</script></body></html>
